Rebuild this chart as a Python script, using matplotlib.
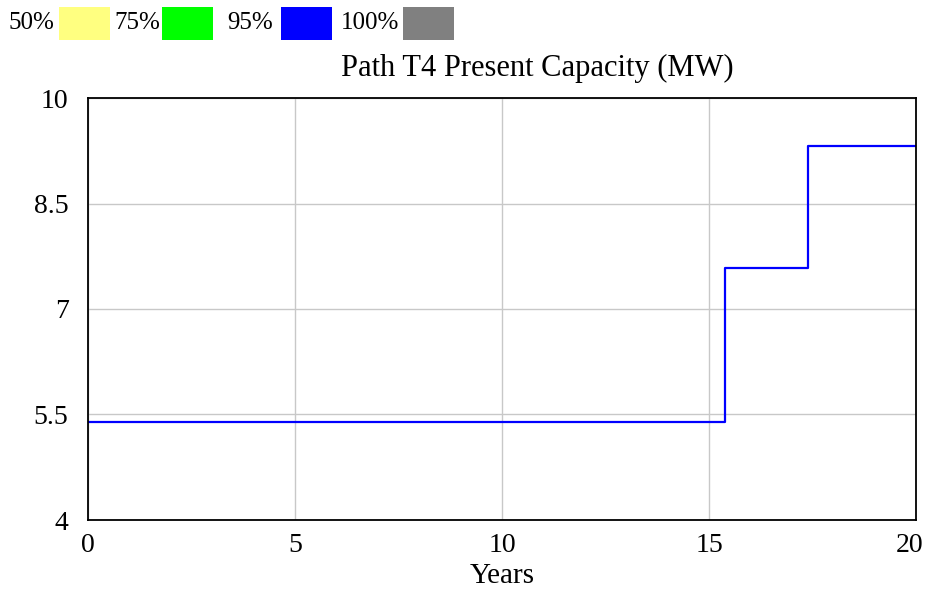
import matplotlib
matplotlib.use("Agg")
import matplotlib.pyplot as plt
from matplotlib.patches import Rectangle
from matplotlib.transforms import ScaledTranslation

# Step series: capacity changes at discrete build years
step_years = [0, 15.375, 17.4, 20]
capacity_mw = [5.4, 7.58, 9.32, 9.32]

x_ticks = [0, 5, 10, 15, 20]
y_ticks = [4, 5.5, 7, 8.5, 10]
y_tick_labels = ["4", "5.5", "7", "8.5", "10"]

legend_labels = ["50%", "75%", "95%", "100%"]
legend_colors = ["#ffff80", "#00ff00", "#0000ff", "#808080"]

plt.rcParams["font.family"] = ["Liberation Serif", "DejaVu Serif"]

W, H = 927, 592
fig = plt.figure(figsize=(W / 100, H / 100), dpi=100)
ax = fig.add_axes([88 / W, 1 - 520 / H, (916 - 88) / W, (520 - 98) / H])

ax.step(step_years, capacity_mw, where="post", color="#0000ff", lw=1.6)

ax.set_xlim(0, 20)
ax.set_ylim(4, 10)
ax.set_xticks(x_ticks)
ax.set_xticklabels([str(v) for v in x_ticks])
ax.set_yticks(y_ticks)
ax.set_yticklabels(y_tick_labels)
ax.tick_params(length=0, labelsize=20)
ax.tick_params(axis="y", pad=14)
ax.tick_params(axis="x", pad=9)
ax.grid(True, color="#c8c8c8", lw=1)
for s in ax.spines.values():
    s.set_linewidth(1.3)
    s.set_color("black")
ax.set_xlabel("Years", fontsize=21, labelpad=4)

# Keep the last x tick label inside the figure edge
last = ax.get_xticklabels()[-1]
last.set_horizontalalignment("right")
last.set_transform(last.get_transform() + ScaledTranslation(7 / 100, 0, fig.dpi_scale_trans))

fig.text(537 / W, 1 - 68 / H, "Path T4 Present Capacity (MW)", fontsize=22,
         ha="center", va="center")

# Legend row across the top
text_x = [8, 114, 227, 341]
box_x = [59, 162, 281, 403]
for lbl, col, tx, bx in zip(legend_labels, legend_colors, text_x, box_x):
    fig.text(tx / W, 1 - 23 / H, lbl, fontsize=18, ha="left", va="center")
    fig.patches.append(Rectangle((bx / W, 1 - 40 / H), 51 / W, 33 / H,
                                 transform=fig.transFigure, facecolor=col,
                                 edgecolor="none"))

fig.savefig("out.png", dpi=100)
